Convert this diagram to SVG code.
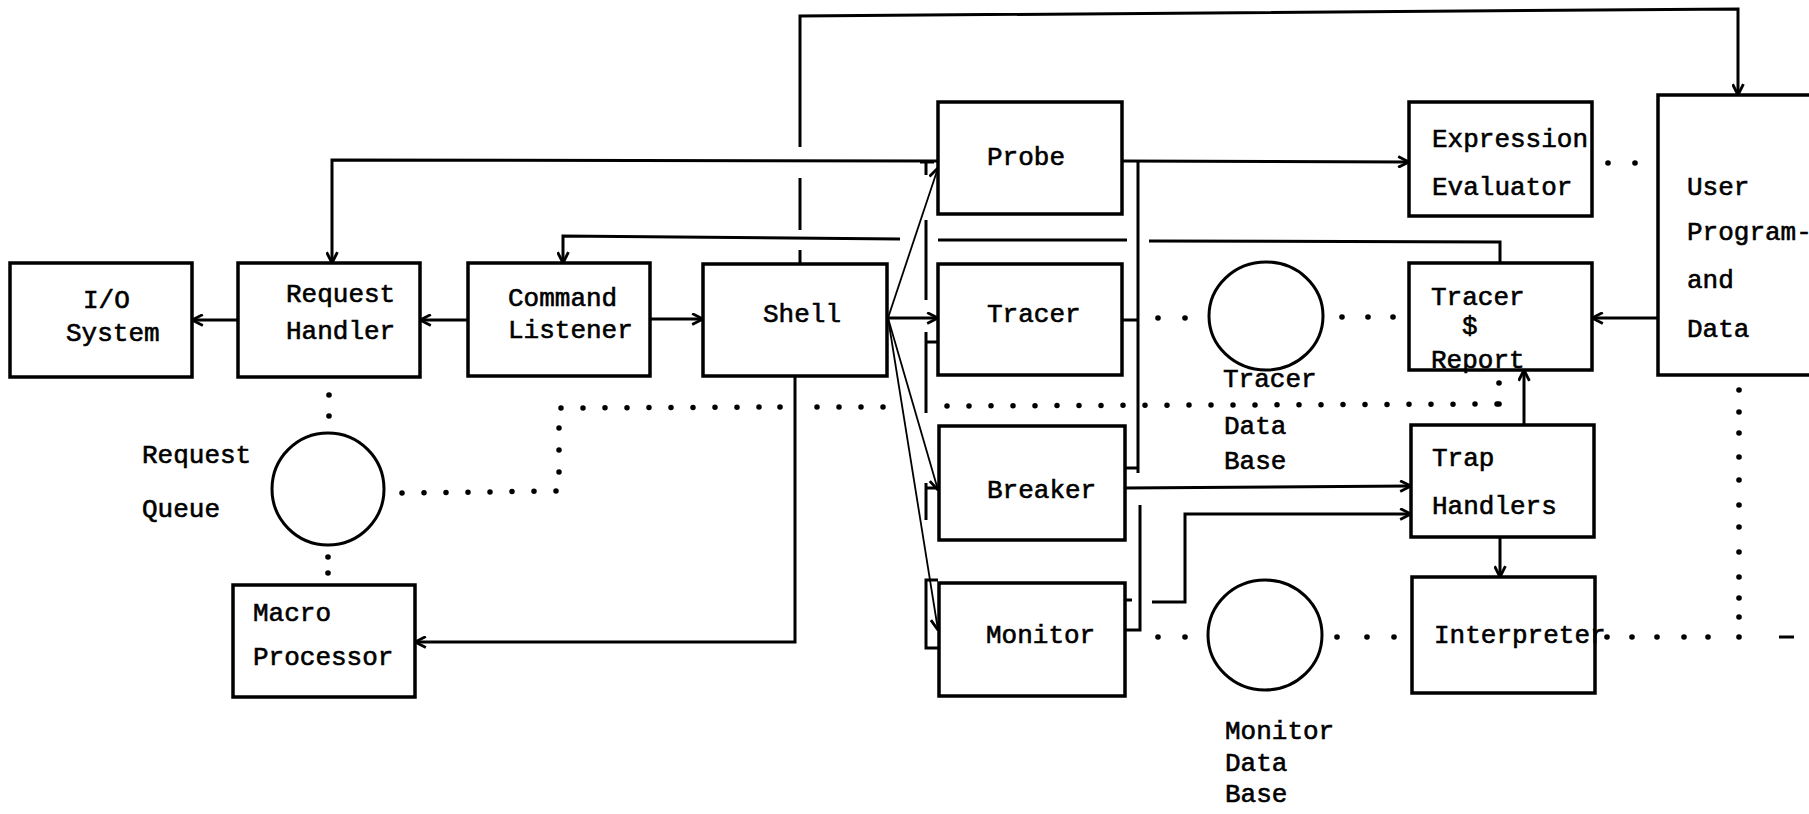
<svg xmlns="http://www.w3.org/2000/svg" width="1809" height="814" viewBox="0 0 1809 814">
<defs>
<marker id="ar" viewBox="0 0 12 12" refX="11" refY="6" markerWidth="13" markerHeight="13" markerUnits="userSpaceOnUse" orient="auto">
<path d="M1,1 L11,6 L1,11" fill="none" stroke="#000" stroke-width="2.6"/>
</marker>
<style>
.box{fill:#fff;stroke:#000;stroke-width:3.5}
.circ{fill:#fff;stroke:#000;stroke-width:3}
.ln{fill:none;stroke:#000;stroke-width:3}
.thin{fill:none;stroke:#000;stroke-width:1.8}
.dot{fill:none;stroke:#000;stroke-width:5.5;stroke-linecap:round;stroke-dasharray:0 22}
.d{fill:#000}
.t{font-family:"Liberation Mono","Courier New",monospace;font-size:26px;fill:#000;stroke:#000;stroke-width:0.6}
</style>
</defs>
<rect width="1809" height="814" fill="#fff"/>

<g id="connectors">
<path class="ln" d="M238,320 L192,320" marker-end="url(#ar)"/>
<path class="ln" d="M468,320 L420,320" marker-end="url(#ar)"/>
<path class="ln" d="M650,319 L703,319" marker-end="url(#ar)"/>
<path class="ln" d="M888,318 L938,318" marker-end="url(#ar)"/>
<path class="thin" d="M888,318 L938,168" marker-end="url(#ar)"/>
<path class="thin" d="M888,318 L938,490" marker-end="url(#ar)"/>
<path class="thin" d="M888,318 L938,630" marker-end="url(#ar)"/>
<path class="ln" d="M938,161 L332,160 L332,263" marker-end="url(#ar)"/>
<path class="ln" d="M800,147 L800,16 L1738,9 L1738,95" marker-end="url(#ar)"/>
<path class="ln" d="M800,178 L800,230 M800,250 L800,264"/>
<path class="ln" d="M1500,263 L1500,242 L1149,241 M1127,240 L938,240"/>
<path class="ln" d="M900,239 L563,236 L563,263" marker-end="url(#ar)"/>
<path class="ln" d="M926,161 L926,175 M920,162 L934,162 M926,220 L926,300 M926,332 L926,413 M926,342 L938,342 M926,483 L926,520 M926,488 L936,488 M938,580 L926,580 L926,648 L939,648"/>
<path class="ln" d="M1122,161 L1409,162" marker-end="url(#ar)"/>
<path class="ln" d="M1138,162 L1138,473 M1122,320 L1138,320 M1125,468 L1138,468 M1140,505 L1140,630 L1125,630"/>
<path class="ln" d="M1125,488 L1411,486" marker-end="url(#ar)"/>
<path class="ln" d="M1125,600 L1132,600"/>
<path class="ln" d="M1152,602 L1185,602 L1185,514 L1411,514" marker-end="url(#ar)"/>
<path class="ln" d="M1500,537 L1500,577" marker-end="url(#ar)"/>
<path class="ln" d="M1524,425 L1524,370" marker-end="url(#ar)"/>
<path class="ln" d="M1658,318 L1592,318" marker-end="url(#ar)"/>
<path class="ln" d="M795,376 L795,642 L415,642" marker-end="url(#ar)"/>
<path class="ln" d="M1779,637 L1794,637" stroke-width="2"/>
<path class="dot" d="M402,493 L559,491 L559,408 L780,407"/>
<path class="dot" d="M817,407 L884,407"/>
<path class="dot" d="M947,406 L1499,404"/>
<circle class="d" cx="329" cy="395" r="2.8"/><circle class="d" cx="329" cy="416" r="2.8"/>
<circle class="d" cx="328" cy="557" r="2.8"/><circle class="d" cx="328" cy="573" r="2.8"/>
<circle class="d" cx="780" cy="407" r="2.8"/><circle class="d" cx="1499" cy="404" r="2.8"/><circle class="d" cx="1499" cy="383" r="2.8"/>
<circle class="d" cx="1158" cy="318" r="2.8"/><circle class="d" cx="1185" cy="318" r="2.8"/>
<circle class="d" cx="1342" cy="317" r="2.8"/><circle class="d" cx="1368" cy="317" r="2.8"/><circle class="d" cx="1393" cy="317" r="2.8"/>
<circle class="d" cx="1608" cy="163" r="2.8"/><circle class="d" cx="1635" cy="163" r="2.8"/>
<circle class="d" cx="1158" cy="637" r="2.8"/><circle class="d" cx="1185" cy="637" r="2.8"/>
<circle class="d" cx="1337" cy="637" r="2.8"/><circle class="d" cx="1367" cy="637" r="2.8"/><circle class="d" cx="1394" cy="637" r="2.8"/>
<circle class="d" cx="1607" cy="637" r="2.8"/><circle class="d" cx="1632" cy="637" r="2.8"/><circle class="d" cx="1657" cy="637" r="2.8"/><circle class="d" cx="1684" cy="637" r="2.8"/><circle class="d" cx="1708" cy="637" r="2.8"/><circle class="d" cx="1739" cy="637" r="2.8"/>
<circle class="d" cx="1739" cy="390" r="2.8"/><circle class="d" cx="1739" cy="412" r="2.8"/><circle class="d" cx="1739" cy="433" r="2.8"/><circle class="d" cx="1739" cy="457" r="2.8"/><circle class="d" cx="1739" cy="480" r="2.8"/><circle class="d" cx="1739" cy="505" r="2.8"/><circle class="d" cx="1739" cy="527" r="2.8"/><circle class="d" cx="1739" cy="552" r="2.8"/><circle class="d" cx="1739" cy="577" r="2.8"/><circle class="d" cx="1739" cy="598" r="2.8"/><circle class="d" cx="1739" cy="617" r="2.8"/>
</g>

<g id="io"><rect class="box" x="10" y="263" width="182" height="114"/><text class="t" x="83" y="308">I/O</text><text class="t" x="66" y="341">System</text></g>
<g id="request-handler"><rect class="box" x="238" y="263" width="182" height="114"/><text class="t" x="286" y="302">Request</text><text class="t" x="286" y="339">Handler</text></g>
<g id="command-listener"><rect class="box" x="468" y="263" width="182" height="113"/><text class="t" x="508" y="306">Command</text><text class="t" x="508" y="338">Listener</text></g>
<g id="shell"><rect class="box" x="703" y="264" width="184" height="112"/><text class="t" x="763" y="322">Shell</text></g>
<g id="probe"><rect class="box" x="938" y="102" width="184" height="112"/><text class="t" x="987" y="165">Probe</text></g>
<g id="tracer"><rect class="box" x="938" y="264" width="184" height="111"/><text class="t" x="987" y="322">Tracer</text></g>
<g id="breaker"><rect class="box" x="939" y="426" width="186" height="114"/><text class="t" x="987" y="498">Breaker</text></g>
<g id="monitor"><rect class="box" x="939" y="583" width="186" height="113"/><text class="t" x="986" y="643">Monitor</text></g>
<g id="expression-evaluator"><rect class="box" x="1409" y="102" width="183" height="114"/><text class="t" x="1432" y="147">Expression</text><text class="t" x="1432" y="195">Evaluator</text></g>
<g id="tracer-report"><rect class="box" x="1409" y="263" width="183" height="107"/><text class="t" x="1431" y="305">Tracer</text><text class="t" x="1462" y="334">$</text><text class="t" x="1431" y="368">Report</text></g>
<g id="trap-handlers"><rect class="box" x="1411" y="425" width="183" height="112"/><text class="t" x="1432" y="466">Trap</text><text class="t" x="1432" y="514">Handlers</text></g>
<g id="interpreter"><rect class="box" x="1412" y="577" width="183" height="116"/><text class="t" x="1434" y="643">Interpreter</text></g>
<g id="user-program"><rect class="box" x="1658" y="95" width="175" height="280"/><text class="t" x="1687" y="195">User</text><text class="t" x="1687" y="240">Program-</text><text class="t" x="1687" y="288">and</text><text class="t" x="1687" y="337">Data</text></g>
<g id="macro-processor"><rect class="box" x="233" y="585" width="182" height="112"/><text class="t" x="253" y="621">Macro</text><text class="t" x="253" y="665">Processor</text></g>
<g id="request-queue"><ellipse class="circ" cx="328" cy="489" rx="56" ry="56"/><text class="t" x="142" y="463">Request</text><text class="t" x="142" y="517">Queue</text></g>
<g id="tracer-db"><ellipse class="circ" cx="1266" cy="316" rx="57" ry="54"/><text class="t" x="1223" y="387">Tracer</text><text class="t" x="1224" y="434">Data</text><text class="t" x="1224" y="469">Base</text></g>
<g id="monitor-db"><ellipse class="circ" cx="1265" cy="635" rx="57" ry="55"/><text class="t" x="1225" y="739">Monitor</text><text class="t" x="1225" y="771">Data</text><text class="t" x="1225" y="802">Base</text></g>
</svg>
